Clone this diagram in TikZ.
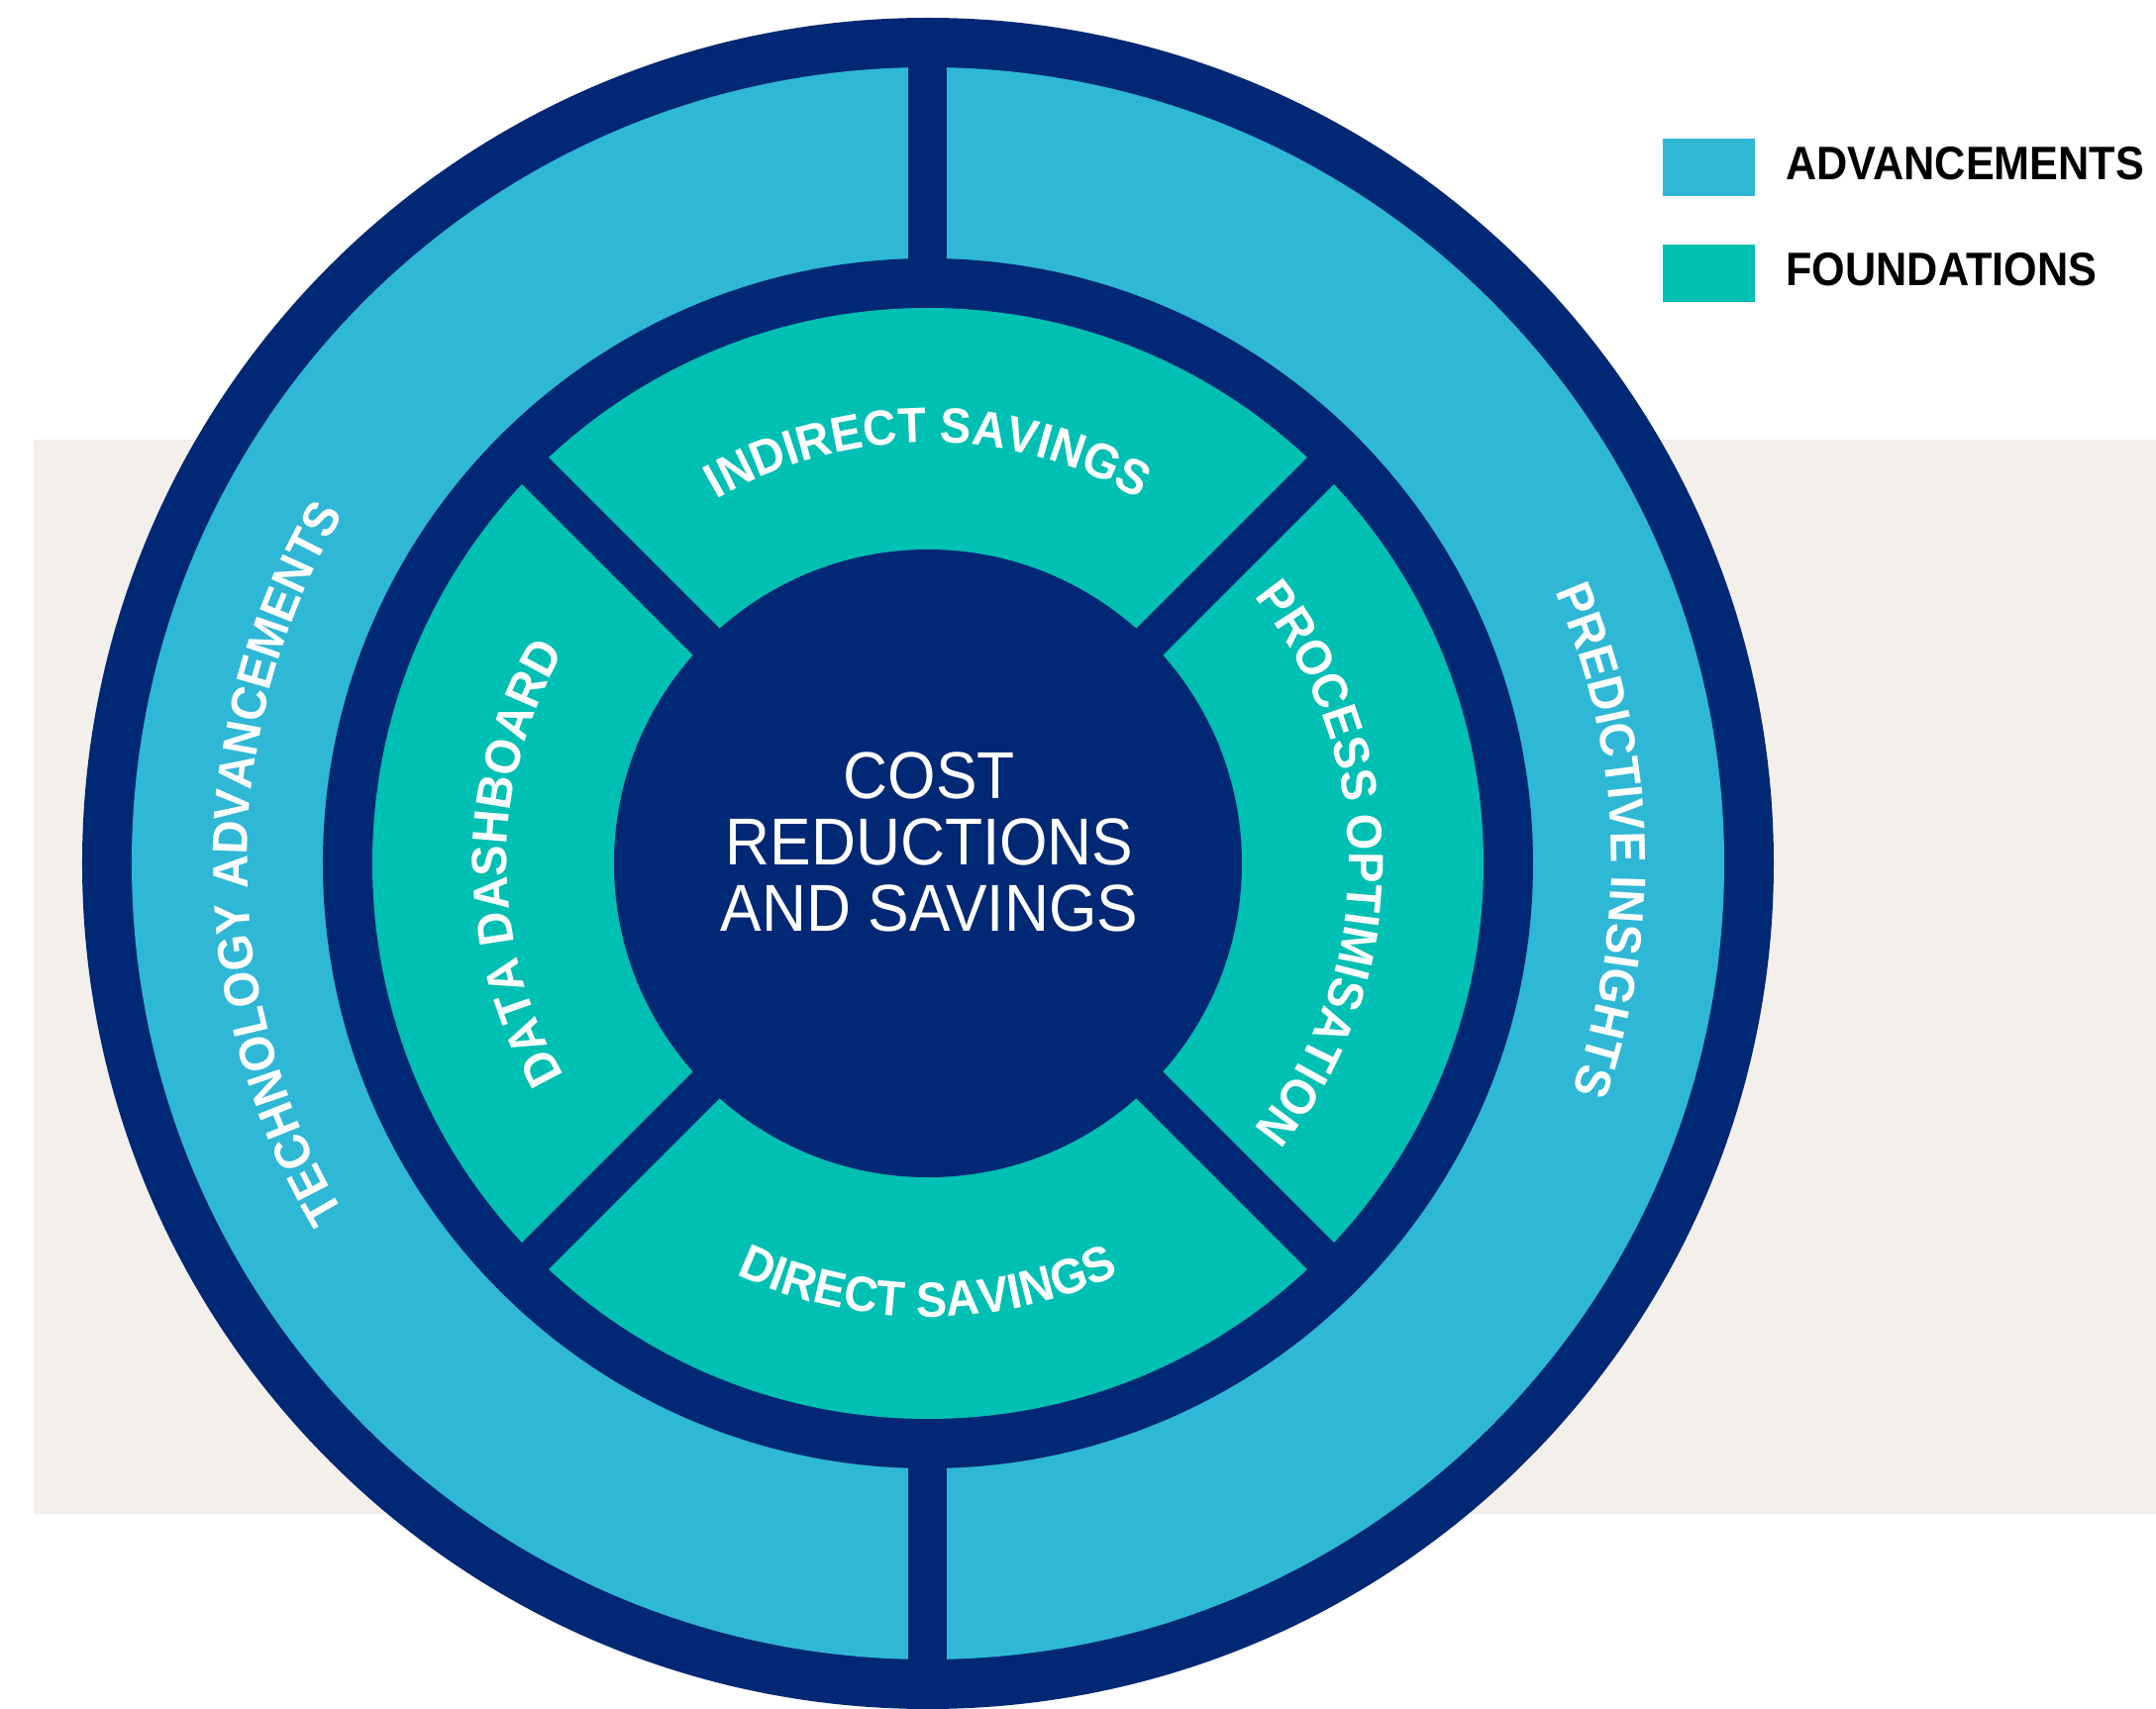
\documentclass[tikz,border=0pt]{standalone}
\usepackage{fontspec}
\usetikzlibrary{positioning,decorations.text}
\newfontfamily\diagfont[FakeStretch=0.91]{Liberation Sans}
\newfontfamily\ringfont[FakeStretch=0.94]{Liberation Sans}
\newfontfamily\middlefont[FakeStretch=0.93]{Liberation Sans}
\definecolor{navy}{RGB}{0,40,116}
\definecolor{advblue}{RGB}{47,184,214}
\definecolor{foundteal}{RGB}{0,191,179}
\definecolor{backbeige}{RGB}{243,239,235}
\newcommand\labelfont{\ringfont\bfseries\fontsize{50}{50}\selectfont}
\newcommand\legendfont{\diagfont\bfseries\fontsize{47.5}{47.5}\selectfont}
\newcommand\centerfont{\middlefont\fontsize{67}{67}\selectfont}
\tikzset{
  ringlabel/.style={decorate,decoration={text along path,text align=center,text color=white}},
  divider/.style={draw=navy,line width=38pt},
  legbox/.style={minimum width=93pt,minimum height=58pt,inner sep=0pt},
  legtext/.style={font=\legendfont,inner sep=0pt,anchor=west},
  centertext/.style={font=\centerfont,text=white,anchor=base,inner sep=0pt}
}
\begin{document}
\begin{tikzpicture}
  [x=1pt,y=1pt,node distance=31pt]
  \useasboundingbox (-937,-854) rectangle (1240,872);
  \fill[backbeige] (-903,-657) rectangle (1240,428);

  % rings
  \fill[navy] (0,0) circle[radius=854pt];
  \fill[advblue] (0,0) circle[radius=804pt];
  \fill[navy] (0,0) circle[radius=611pt];
  \fill[foundteal] (0,0) circle[radius=561pt];
  \foreach \a in {45,135,225,315}
    \draw[divider] (\a:300pt) -- (\a:580pt);
  \fill[navy] (0,0) circle[radius=317pt];
  \draw[divider,line width=39pt] (90:590pt) -- (90:820pt);
  \draw[divider,line width=39pt] (270:590pt) -- (270:820pt);

  % inner labels
  \path[ringlabel,decoration={text={|\labelfont|INDIRECT SAVINGS}}]
    (150:425pt) arc[start angle=150,end angle=30,radius=425pt];
  \path[ringlabel,decoration={text={|\labelfont|DIRECT SAVINGS}}]
    (210:458pt) arc[start angle=210,end angle=330,radius=458pt];
  \path[ringlabel,decoration={text={|\labelfont|DATA DASHBOARD}}]
    (250:425pt) arc[start angle=250,end angle=110,radius=425pt];
  \path[ringlabel,decoration={text={|\labelfont|PROCESS OPTIMISATION}}]
    (70:425pt) arc[start angle=70,end angle=-70,radius=425pt];

  % outer labels
  \path[ringlabel,decoration={text={|\labelfont|TECHNOLOGY ADVANCEMENTS}}]
    (250:687pt) arc[start angle=250,end angle=110,radius=687pt];
  \path[ringlabel,decoration={text={|\labelfont|PREDICTIVE INSIGHTS}}]
    (72:690pt) arc[start angle=72,end angle=-68,radius=690pt];

  % centre
  \node (cost) [centertext] at (1.5,65.4) {COST};
  \node (reduc) [centertext] at (1.5,-1.6) {REDUCTIONS};
  \node (andsav) [centertext] at (1.5,-68.5) {AND SAVINGS};

  % legend
  \node (adv) [legbox,fill=advblue] at (788.5,703) {};
  \node (found) [legbox,fill=foundteal] at (788.5,596) {};
  \node (advlabel) [legtext,right=of adv,yshift=4pt] {ADVANCEMENTS};
  \node (foundlabel) [legtext,right=of found,yshift=4pt] {FOUNDATIONS};
\end{tikzpicture}
\end{document}
